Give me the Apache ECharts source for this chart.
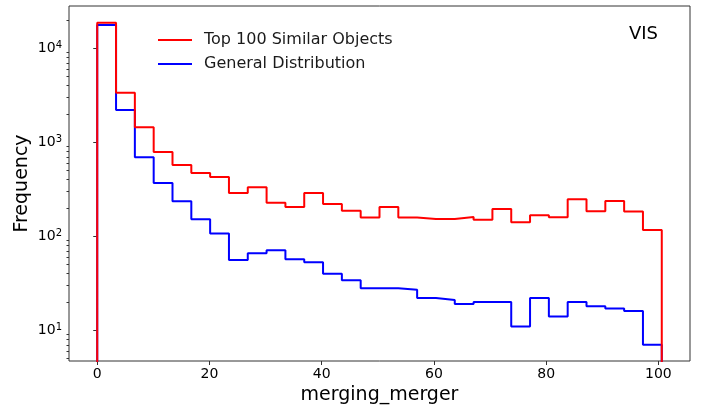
<!DOCTYPE html>
<html>
<head>
<meta charset="utf-8">
<script src="https://cdn.jsdelivr.net/npm/echarts@6/dist/echarts.min.js"></script>
<style>
  html, body { margin: 0; padding: 0; background: #fff; }
  #chart { width: 707px; height: 410px; }
</style>
</head>
<body>
<div id="chart"></div>
<script>
// Step histograms of merging_merger: 30 equal-width bins spanning 0 – 100.6
const binStart = 0;
const binEnd = 100.6;
const binCount = 30;

const similarCounts = [18700, 3370, 1446, 789, 574, 471, 427, 289, 332, 228,
                       205, 289, 221, 187, 158, 205, 158, 153, 153, 160,
                       150, 195, 141, 167, 159, 248, 185, 238, 183, 117];
const generalCounts = [17700, 2210, 692, 369, 236, 152, 107, 56, 66, 71,
                       57, 53, 40, 34, 28, 28, 27, 22, 21, 19,
                       20, 20, 11, 22, 14, 20, 18, 17, 16, 7];

const xTicks = [0, 20, 40, 60, 80, 100];
const yMajorTicks = [10, 100, 1000, 10000];
const yMinorTicks = [5, 6, 7, 8, 9, 20, 30, 40, 50, 60, 70, 80, 90,
                     200, 300, 400, 500, 600, 700, 800, 900,
                     2000, 3000, 4000, 5000, 6000, 7000, 8000, 9000, 20000];

const similarName = 'Top 100 Similar Objects';
const generalName = 'General Distribution';

// Axis extents (log y); values below yMin are clipped at the frame
const xMin = -5.03, xMax = 105.63;
const yMin = 4.71, yMax = 28200;
const floorValue = 1;

const binWidth = (binEnd - binStart) / binCount;
const edges = Array.from({ length: binCount + 1 }, (_, i) => binStart + i * binWidth);

// Outline of a histogram: up from the floor, across each bin, back down at the end
function stepOutline(counts) {
  const pts = [[edges[0], floorValue]];
  counts.forEach((c, i) => pts.push([edges[i], c]));
  pts.push([edges[binCount], counts[binCount - 1]]);
  pts.push([edges[binCount], floorValue]);
  return pts;
}

const FONT = 'DejaVu Sans';
const frameColor = '#333';

const chart = echarts.init(document.getElementById('chart'), null, { renderer: 'canvas' });

chart.setOption({
  animation: false,
  backgroundColor: '#fff',
  textStyle: { fontFamily: FONT, color: '#000' },
  grid: {
    left: 69, right: 17, top: 6, bottom: 49,
    show: true, borderColor: frameColor, borderWidth: 1, backgroundColor: 'transparent',
    containLabel: false, outerBoundsMode: 'none'
  },
  legend: {
    data: [similarName, generalName],
    orient: 'vertical',
    left: 153, top: 27,
    icon: 'rect',
    itemWidth: 34, itemHeight: 2,
    itemGap: 8,
    selectedMode: false,
    textStyle: { fontFamily: FONT, fontSize: 16, color: '#1a1a1a', lineHeight: 16, padding: [0, 0, 0, 7] }
  },
  graphic: [{
    type: 'text',
    right: 49, top: 25,
    style: { text: 'VIS', font: '18px "DejaVu Sans"', fill: '#000' }
  }],
  xAxis: {
    type: 'value',
    min: xMin, max: xMax,
    name: 'merging_merger',
    nameLocation: 'middle',
    nameGap: 22,
    nameTextStyle: { fontFamily: FONT, fontSize: 19, color: '#000' },
    axisLine: { show: false },
    splitLine: { show: false },
    axisTick: { show: true, length: 4, customValues: xTicks, lineStyle: { color: frameColor, width: 1 } },
    axisLabel: { customValues: xTicks, fontFamily: FONT, fontSize: 14, color: '#000', margin: 6 }
  },
  yAxis: [{
    type: 'log',
    logBase: 10,
    min: yMin, max: yMax,
    name: 'Frequency',
    nameLocation: 'middle',
    nameGap: 37,
    nameMoveOverlap: false,
    nameTextStyle: { fontFamily: FONT, fontSize: 19, color: '#000' },
    axisLine: { show: false },
    splitLine: { show: false },
    minorTick: { show: false },
    axisTick: { show: true, length: 4, customValues: yMajorTicks, lineStyle: { color: frameColor, width: 1 } },
    axisLabel: {
      customValues: yMajorTicks,
      margin: 7,
      formatter: v => '{b|10}{s|' + Math.round(Math.log10(v)) + '}',
      rich: {
        b: { fontFamily: FONT, fontSize: 14, color: '#000', lineHeight: 16 },
        s: { fontFamily: FONT, fontSize: 10, color: '#000', verticalAlign: 'top', lineHeight: 16 }
      }
    }
  }, {
    // minor ticks of the log scale (2–9 × 10^k)
    type: 'log',
    logBase: 10,
    min: yMin, max: yMax,
    position: 'left',
    axisLine: { show: false },
    splitLine: { show: false },
    axisLabel: { show: false },
    axisTick: { show: true, length: 2.5, customValues: yMinorTicks, lineStyle: { color: frameColor, width: 1 } }
  }],
  series: [{
    name: generalName,
    type: 'line',
    step: 'end',
    yAxisIndex: 0,
    data: stepOutline(generalCounts),
    symbol: 'none',
    color: '#0000ff',
    lineStyle: { color: '#0000ff', width: 2 },
    clip: true,
    z: 2
  }, {
    name: similarName,
    type: 'line',
    step: 'end',
    yAxisIndex: 0,
    data: stepOutline(similarCounts),
    symbol: 'none',
    color: '#ff0000',
    lineStyle: { color: '#ff0000', width: 2 },
    clip: true,
    z: 3
  }]
});
</script>
</body>
</html>
